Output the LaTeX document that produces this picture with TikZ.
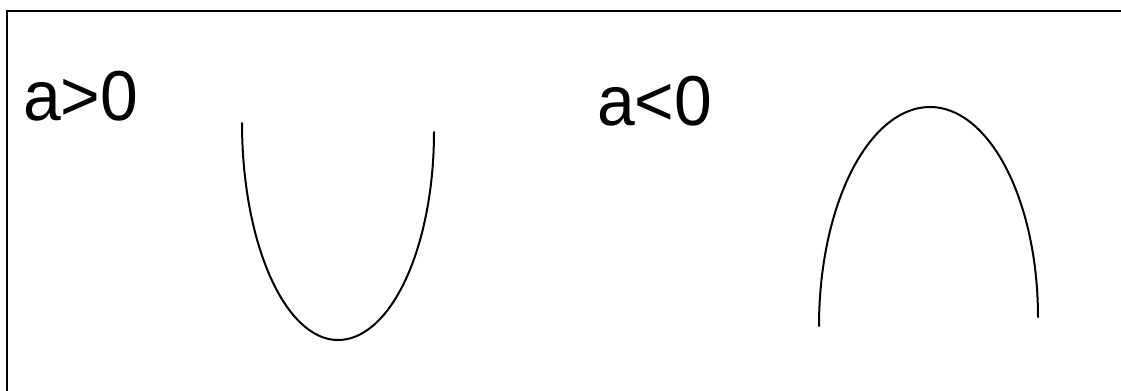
\documentclass[tikz,border=0pt]{standalone}
\usepackage{fontspec}
\setmainfont{Liberation Sans}
\begin{document}
\begin{tikzpicture}[x=0.75pt,y=-0.75pt,
  curve/.style={line width=1.5pt, line cap=round},
  frameline/.style={line width=1.6pt},
  label/.style={anchor=base west, inner sep=0pt, font=\fontsize{53}{60}\selectfont, xscale=0.96}]
\useasboundingbox (0,0) rectangle (1121,390);
\fill[white] (-10,-10) rectangle (1135,400);
% frame
\coordinate (fbl) at (7,395);
\coordinate (ftl) at (7,11);
\coordinate (ftr) at (1125,11);
\draw[frameline] (fbl) -- (ftl) -- (ftr);
% labels
\node[label] (lpos) at (23,120) {a>0};
\node[label] (lneg) at (597,125) {a<0};
% a>0 curve (opens upward)
\draw[curve] plot[domain=180:270, samples=60] ({338+96*cos(\x)},{123-217*sin(\x)})
  -- plot[domain=270:360, samples=60] ({338+96*cos(\x)},{132-208*sin(\x)});
% a<0 curve (opens downward)
\draw[curve] plot[domain=180:90, samples=60] ({930+111*cos(\x)},{326-219*sin(\x)})
  -- plot[domain=90:0, samples=60] ({930+108*cos(\x)},{317-210*sin(\x)});
\end{tikzpicture}
\end{document}
